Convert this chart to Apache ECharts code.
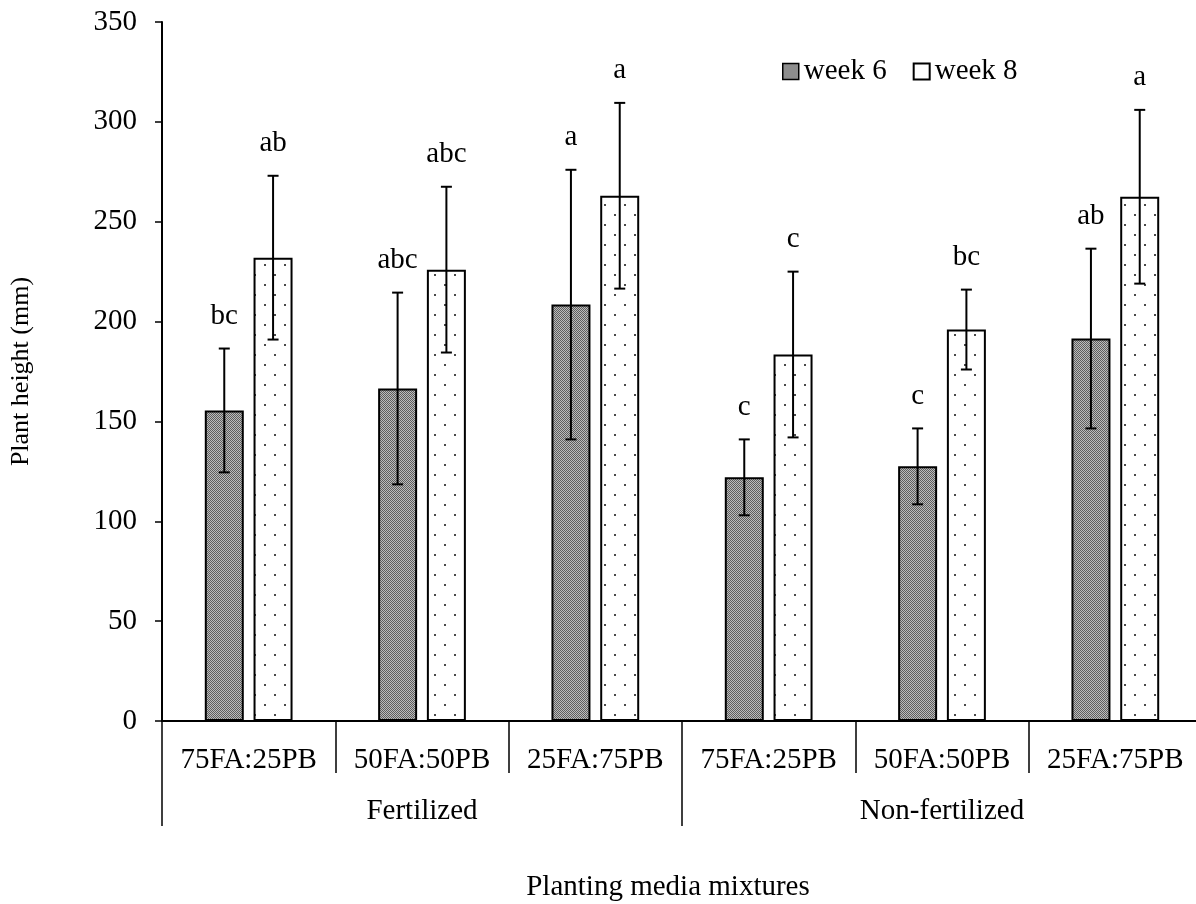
<!DOCTYPE html>
<html>
<head>
<meta charset="utf-8">
<script src="https://cdn.jsdelivr.net/npm/echarts@6/dist/echarts.min.js"></script>
<style>html,body{margin:0;padding:0;background:#fff;}#c{width:1196px;height:904px;}</style>
</head>
<body>
<div id="c"></div>
<script>
// ---- data ----
var categories = ['75FA:25PB', '50FA:50PB', '25FA:75PB', '75FA:25PB', '50FA:50PB', '25FA:75PB'];
var groups = ['Fertilized', 'Non-fertilized'];
var week6 = [155.5, 166.5, 208.5, 122, 127.5, 191.5];
var week6Err = [31, 48, 67.5, 19, 19, 45];
var week6Letters = ['bc', 'abc', 'a', 'c', 'c', 'ab'];
var week8 = [232, 226, 263, 183.5, 196, 262.5];
var week8Err = [41, 41.5, 46.5, 41.5, 20, 43.5];
var week8Letters = ['ab', 'abc', 'a', 'c', 'bc', 'a'];
var yTicks = {min: 0, max: 350, interval: 50};

// ---- patterns ----
function makeCanvas(w, h, draw) {
  var c = document.createElement('canvas'); c.width = w; c.height = h;
  draw(c.getContext('2d')); return c;
}
var darkPat = makeCanvas(2, 2, function (g) {
  g.fillStyle = '#bcbcbc'; g.fillRect(0, 0, 2, 2);
  g.fillStyle = '#5e5e5e'; g.fillRect(0, 0, 1, 1); g.fillRect(1, 1, 1, 1);
});
var dotPat = makeCanvas(20, 20, function (g) {
  g.fillStyle = '#ffffff'; g.fillRect(0, 0, 20, 20);
  g.fillStyle = '#4a4a4a'; g.fillRect(4, 4, 2, 2); g.fillRect(14, 14, 2, 2);
});

var FONT = 'Liberation Serif';
var FS = 29;
var BAR_W = 39;
var OFF = 24.4;

function errSeries(name, vals, errs, letters, off) {
  var data = vals.map(function (v, i) { return [i, v, errs[i]]; });
  return {
    name: name, type: 'custom', z: 10,
    encode: {x: 0, y: 1},
    data: data,
    renderItem: function (params, api) {
      var ci = api.value(0), v = api.value(1), e = api.value(2);
      var hi = api.coord([ci, v + e]);
      var lo = api.coord([ci, v - e]);
      var x = hi[0] + off;
      var st = {stroke: '#000', lineWidth: 2};
      return {
        type: 'group',
        children: [
          {type: 'line', shape: {x1: x, y1: hi[1], x2: x, y2: lo[1]}, style: st},
          {type: 'line', shape: {x1: x - 5.5, y1: hi[1], x2: x + 5.5, y2: hi[1]}, style: st},
          {type: 'line', shape: {x1: x - 5.5, y1: lo[1], x2: x + 5.5, y2: lo[1]}, style: st},
          {type: 'text', style: {text: letters[params.dataIndex], x: x, y: hi[1] - 18,
            align: 'center', verticalAlign: 'bottom', fill: '#000', font: FS + 'px "' + FONT + '"'}}
        ]
      };
    }
  };
}

var chart = echarts.init(document.getElementById('c'), null, {renderer: 'canvas'});
chart.setOption({
  animation: false,
  backgroundColor: '#fff',
  textStyle: {fontFamily: FONT, color: '#000'},
  grid: {left: 162, top: 22, bottom: 183, width: 1040, containLabel: false, outerBoundsMode: 'none'},
  legend: {
    left: 777, top: 52, itemWidth: 16, itemHeight: 16, itemGap: 26,
    textStyle: {fontFamily: FONT, fontSize: FS, color: '#000'},
    data: [
      {name: 'week 6', icon: 'rect', itemStyle: {color: {image: darkPat, repeat: 'repeat'}, borderColor: '#000', borderWidth: 1.5}},
      {name: 'week 8', icon: 'rect', itemStyle: {color: '#fff', borderColor: '#000', borderWidth: 2}}
    ]
  },
  xAxis: [
    {
      type: 'category', data: categories, position: 'bottom', gridIndex: 0,
      axisLine: {show: true, lineStyle: {color: '#000', width: 2}},
      axisTick: {show: true, interval: 0, length: 52, lineStyle: {color: '#000', width: 1.5}},
      axisLabel: {interval: 0, margin: 25, color: '#000', fontFamily: FONT, fontSize: FS},
      splitLine: {show: false}
    },
    {
      type: 'category', data: groups, position: 'bottom', offset: 50, gridIndex: 0,
      axisLine: {show: false},
      axisTick: {show: true, interval: 0, length: 55, lineStyle: {color: '#000', width: 1.5}},
      axisLabel: {interval: 0, margin: 26, color: '#000', fontFamily: FONT, fontSize: FS},
      name: 'Planting media mixtures', nameLocation: 'middle', nameGap: 102,
      nameTextStyle: {color: '#000', fontFamily: FONT, fontSize: FS, padding: [0, 28, 0, 0]}
    }
  ],
  yAxis: {
    type: 'value', min: yTicks.min, max: yTicks.max, interval: yTicks.interval,
    axisLine: {show: true, lineStyle: {color: '#000', width: 2}},
    axisTick: {show: true, length: 7, lineStyle: {color: '#000', width: 1.5}},
    axisLabel: {margin: 25, color: '#000', fontFamily: FONT, fontSize: FS},
    splitLine: {show: false},
    name: 'Plant height (mm)', nameLocation: 'middle', nameGap: 128,
    nameTextStyle: {color: '#000', fontFamily: FONT, fontSize: 26}
  },
  series: [
    {name: 'week 6', type: 'bar', data: week6, barWidth: BAR_W, barGap: '25%',
      itemStyle: {color: {image: darkPat, repeat: 'repeat'}, borderColor: '#000', borderWidth: 2}},
    {name: 'week 8', type: 'bar', data: week8, barWidth: BAR_W, barGap: '25%',
      itemStyle: {color: {image: dotPat, repeat: 'repeat'}, borderColor: '#000', borderWidth: 2}},
    errSeries('err6', week6, week6Err, week6Letters, -OFF),
    errSeries('err8', week8, week8Err, week8Letters, OFF)
  ]
});
</script>
</body>
</html>
